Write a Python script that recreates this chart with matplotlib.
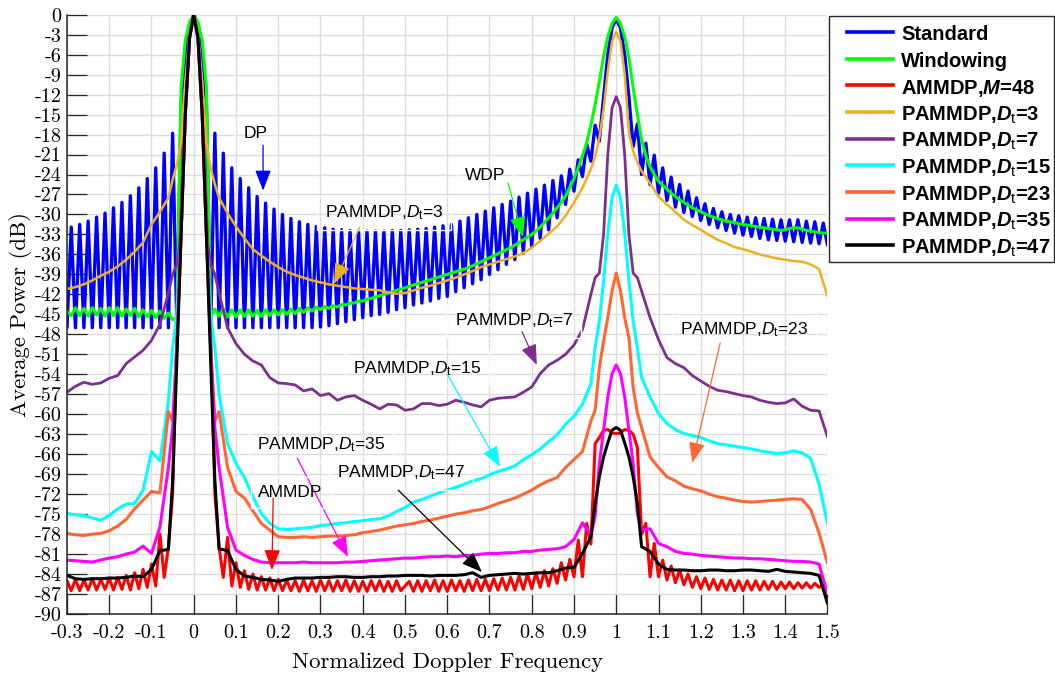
import numpy as np
import matplotlib
matplotlib.use("Agg")
import matplotlib.pyplot as plt
from matplotlib.lines import Line2D
from matplotlib.patches import Rectangle

plt.rcParams.update({
    'mathtext.fontset': 'custom',
    'mathtext.rm': 'Liberation Sans',
    'mathtext.it': 'Liberation Sans:italic',
    'mathtext.bf': 'Liberation Sans:bold',
    'mathtext.sf': 'Liberation Sans:bold:italic',
    'axes.unicode_minus': False,
})

# ---------------- data ----------------
# fine grid (0.01 step) for the strongly oscillating curves
x_fine = np.round(np.arange(-0.30, 1.5001, 0.01), 2)
# coarse grid for the smoother curves (finer around the two targets)
x_coarse = np.round(np.concatenate([
    np.arange(-0.30, -0.059, 0.02), np.arange(-0.05, 0.0501, 0.01),
    np.arange(0.06, 0.9401, 0.02), np.arange(0.95, 1.0501, 0.01),
    np.arange(1.06, 1.5001, 0.02)]), 2)

standard_db = [
    -47.0, -31.9, -47.0, -31.5, -47.0, -31.0, -47.0, -30.4, -47.0, -29.8,
    -47.0, -29.0, -47.0, -28.2, -47.0, -27.2, -47.0, -26.0, -47.0, -24.6,
    -47.0, -23.0, -47.0, -20.8, -47.0, -17.8, -47.0, -13.3, -6.0, -1.5,
    0.0, -1.5, -6.0, -13.3, -47.0, -17.8, -47.0, -20.8, -47.0, -23.0,
    -47.0, -24.6, -47.0, -26.0, -47.0, -27.3, -47.0, -28.3, -47.0, -29.2,
    -47.0, -30.0, -47.0, -30.6, -47.0, -31.1, -47.0, -31.5, -47.0, -31.8,
    -46.9, -32.0, -46.7, -32.2, -46.4, -32.3, -46.1, -32.4, -45.8, -32.5,
    -45.5, -32.5, -45.2, -32.5, -45.0, -32.5, -44.7, -32.4, -44.3, -32.4,
    -44.0, -32.3, -43.6, -32.2, -43.3, -32.1, -43.0, -31.9, -42.6, -31.7,
    -42.3, -31.5, -41.6, -31.0, -41.0, -30.5, -40.4, -30.0, -39.8, -29.5,
    -39.0, -29.0, -38.3, -28.5, -37.5, -28.0, -36.8, -27.4, -35.8, -26.8,
    -34.8, -26.2, -33.6, -25.6, -32.3, -24.9, -30.5, -24.2, -28.5, -23.2,
    -26.5, -21.8, -24.3, -19.4, -22.0, -16.6, -19.0, -12.4, -6.0, -2.0,
    -0.6, -2.0, -6.0, -12.4, -19.8, -16.4, -24.0, -19.3, -25.5, -21.1,
    -26.8, -23.0, -27.9, -24.4, -28.9, -25.5, -29.7, -26.5, -30.3, -27.5,
    -30.9, -28.4, -31.5, -29.1, -32.0, -29.6, -32.4, -30.0, -32.8, -30.2,
    -33.1, -30.4, -33.3, -30.5, -33.6, -30.6, -33.8, -30.7, -33.9, -30.8,
    -34.0, -30.8, -34.1, -30.8, -34.2, -31.0, -34.3, -31.1, -34.4, -31.3,
    -34.6]

windowing_db = [
    -44.6, -45.2, -44.0, -45.2, -44.1, -45.3, -44.0, -45.1, -44.1, -45.3,
    -44.0, -45.2, -44.0, -45.3, -44.2, -45.2, -44.1, -45.4, -44.3, -45.4,
    -44.4, -45.5, -44.5, -45.6, -44.8, -45.8, -45.5, -11.0, -3.8, -1.1,
    0.0, -1.1, -3.8, -11.0, -45.5, -44.2, -45.3, -44.2, -45.4, -44.3,
    -45.4, -44.3, -45.3, -44.3, -45.3, -44.4, -45.3, -44.3, -45.2, -44.3,
    -45.1, -44.3, -45.0, -44.2, -44.9, -44.1, -44.7, -44.0, -44.5, -43.9,
    -44.3, -43.8, -44.1, -43.7, -43.9, -43.5, -43.6, -43.3, -43.3, -43.0,
    -43.0, -42.7, -42.6, -42.4, -42.2, -42.0, -41.8, -41.6, -41.4, -41.2,
    -41.0, -40.8, -40.6, -40.4, -40.2, -40.0, -39.8, -39.6, -39.4, -39.2,
    -39.0, -38.8, -38.6, -38.4, -38.2, -38.0, -37.7, -37.4, -37.1, -36.8,
    -36.5, -36.2, -35.9, -35.6, -35.3, -35.0, -34.6, -34.2, -33.8, -33.4,
    -33.0, -32.5, -31.9, -31.2, -30.5, -29.8, -29.0, -28.2, -27.2, -26.0,
    -24.6, -23.0, -21.2, -19.2, -16.6, -13.5, -10.0, -6.3, -3.3, -1.3,
    -0.4, -1.3, -3.3, -6.5, -11.0, -15.0, -18.8, -21.2, -22.8, -24.0,
    -25.0, -25.6, -26.2, -26.8, -27.3, -27.8, -28.2, -28.6, -29.0, -29.3,
    -29.6, -29.9, -30.2, -30.4, -30.6, -30.8, -31.0, -31.1, -31.2, -31.4,
    -31.5, -31.6, -31.7, -31.8, -31.9, -32.0, -32.1, -32.2, -32.3, -32.4,
    -32.3, -32.1, -32.0, -32.0, -32.2, -32.4, -32.5, -32.6, -32.7, -32.8,
    -32.8]

ammdp_db = [
    -85.0, -86.5, -84.8, -86.5, -84.9, -86.4, -84.7, -86.4, -84.8, -86.3,
    -84.6, -86.4, -84.5, -86.3, -84.2, -86.4, -83.8, -86.2, -83.3, -86.0,
    -82.5, -85.8, -78.0, -84.5, -80.0, -72.0, -48.0, -30.0, -13.0, -3.5,
    0.0, -3.5, -13.0, -30.0, -48.0, -72.0, -80.0, -84.5, -78.5, -85.8,
    -82.3, -86.0, -83.5, -86.3, -84.0, -86.4, -84.4, -86.4, -84.6, -86.5,
    -84.8, -86.5, -84.9, -86.5, -85.0, -86.6, -84.9, -86.5, -85.0, -86.6,
    -84.9, -86.5, -85.0, -86.6, -85.0, -86.5, -84.9, -86.6, -85.0, -86.6,
    -85.1, -86.6, -85.0, -86.5, -85.0, -86.6, -85.1, -86.6, -85.0, -86.5,
    -85.8, -85.1, -86.6, -85.0, -86.6, -85.0, -86.5, -84.9, -86.6, -85.0,
    -86.6, -84.9, -86.5, -85.0, -86.6, -84.9, -86.5, -84.8, -86.5, -84.8,
    -86.5, -84.7, -86.4, -84.6, -86.4, -84.5, -86.4, -84.3, -86.3, -84.0,
    -86.2, -83.8, -86.0, -83.5, -85.8, -83.2, -85.4, -82.3, -84.9, -81.8,
    -84.4, -78.9, -84.4, -76.4, -79.5, -64.4, -63.5, -62.4, -62.3, -62.8,
    -62.9, -62.8, -62.3, -62.4, -63.0, -65.0, -78.0, -76.4, -84.4, -79.4,
    -84.4, -81.9, -84.9, -82.8, -85.3, -83.4, -85.6, -84.0, -86.0, -84.4,
    -86.2, -84.6, -86.3, -84.8, -86.4, -84.9, -86.4, -84.9, -86.5, -85.0,
    -86.5, -85.0, -86.4, -85.0, -86.4, -85.1, -86.3, -85.1, -86.3, -85.2,
    -86.2, -85.2, -86.2, -85.3, -86.1, -85.3, -86.1, -85.4, -86.0, -85.6,
    -88.4]

pammdp3_db = [
    -41.2, -40.9, -40.5, -39.9, -39.2, -38.6, -37.8, -36.8, -35.6, -34.2, -31.5, -29.6, -27.5,
    -24.8, -22.5, -19.3, -10.0, -3.0, 0.0, -3.0, -10.0, -19.3, -23.0, -25.5,
    -27.5, -29.8, -31.8, -33.6, -35.2, -36.2, -37.1, -37.9, -38.6, -39.1, -39.5, -39.9,
    -40.2, -40.5, -40.7, -40.9, -41.1, -41.2, -41.3, -41.4, -41.7, -41.9, -41.8, -41.4,
    -41.0, -40.7, -40.3, -39.9, -39.5, -39.0, -38.5, -37.9, -37.5, -37.1, -36.7, -36.3,
    -35.8, -35.0, -34.0, -32.9, -31.8, -30.2, -28.2, -26.0, -23.2,
    -21.3, -18.5, -14.3, -8.5, -4.0, -2.6, -4.0, -9.0, -17.8, -20.5, -22.2,
    -23.5, -25.3, -27.3, -28.5, -29.6, -30.8, -31.6, -32.3, -33.1, -33.8, -34.3, -34.9,
    -35.2, -35.6, -36.0, -36.3, -36.6, -36.8, -37.0, -37.1, -37.5, -38.2, -42.3]

pammdp7_db = [
    -56.7, -55.8, -55.2, -55.5, -55.3, -54.6, -54.2, -52.4, -51.4, -50.4, -48.9, -46.5, -41.8,
    -39.0, -37.5, -33.0, -15.0, -3.5, 0.0, -3.5, -15.0, -33.0, -37.5, -39.0,
    -41.8, -47.0, -49.4, -51.0, -52.0, -52.6, -54.5, -55.3, -55.4, -55.6, -56.5, -56.2,
    -57.2, -56.9, -57.9, -57.4, -57.2, -57.9, -58.5, -59.2, -58.5, -58.6, -59.4, -59.2,
    -58.4, -58.4, -58.7, -58.5, -57.9, -58.2, -58.6, -58.9, -57.9, -57.6, -57.5, -57.4,
    -56.7, -55.9, -53.9, -52.6, -51.9, -51.0, -49.6, -47.3, -42.0,
    -39.5, -38.8, -33.0, -21.0, -14.0, -12.3, -14.0, -21.0, -33.0, -38.8, -39.5,
    -41.5, -45.5, -48.8, -51.5, -52.4, -53.0, -54.2, -55.0, -55.8, -56.4, -56.6, -56.9,
    -57.2, -57.4, -57.9, -58.2, -58.4, -58.3, -57.7, -58.8, -59.4, -59.5, -63.4]

pammdp15_db = [
    -74.9, -75.1, -75.2, -75.6, -75.9, -75.2, -74.2, -73.5, -73.4, -71.4, -65.6, -67.0, -58.0,
    -50.0, -45.0, -33.0, -15.0, -3.5, 0.0, -3.5, -15.0, -33.0, -45.0, -50.0,
    -57.0, -64.4, -67.4, -69.5, -72.4, -74.9, -76.4, -77.2, -77.3, -77.2, -77.1, -77.0,
    -76.7, -76.6, -76.4, -76.3, -76.1, -76.0, -75.8, -75.7, -75.3, -74.6, -74.0, -73.2,
    -72.8, -72.3, -71.8, -71.4, -71.0, -70.5, -70.0, -69.7, -69.1, -68.6, -68.2, -67.8,
    -66.8, -66.1, -65.2, -64.1, -63.1, -61.5, -60.3, -58.5, -55.4,
    -50.0, -46.0, -40.0, -32.8, -27.5, -25.6, -27.5, -32.8, -40.0, -46.0, -50.0,
    -54.5, -57.4, -59.9, -61.4, -62.3, -62.9, -63.2, -63.5, -64.0, -64.4, -64.6, -64.8,
    -65.0, -65.2, -65.5, -65.7, -65.9, -65.8, -65.5, -65.8, -66.6, -70.5, -76.4]

pammdp23_db = [
    -77.9, -78.1, -78.2, -78.0, -77.9, -77.5, -76.8, -75.8, -74.2, -72.9, -71.6, -71.8, -59.6,
    -61.0, -50.0, -33.0, -15.0, -3.5, 0.0, -3.5, -15.0, -33.0, -50.0, -61.0,
    -59.6, -68.0, -71.6, -72.6, -74.5, -76.4, -77.4, -78.4, -78.5, -78.5, -78.4, -78.5,
    -78.4, -78.3, -78.3, -78.2, -78.1, -77.8, -77.6, -77.4, -77.1, -76.8, -76.6, -76.4,
    -76.1, -75.9, -75.6, -75.3, -75.0, -74.8, -74.5, -74.3, -73.9, -73.4, -73.0, -72.6,
    -72.0, -71.4, -70.6, -70.0, -69.5, -68.0, -66.8, -65.6, -61.0,
    -59.4, -53.0, -49.0, -45.5, -41.5, -38.8, -41.5, -45.5, -48.5, -56.0, -59.8,
    -62.0, -66.4, -68.0, -69.4, -70.0, -70.8, -71.2, -71.5, -72.0, -72.4, -72.6, -72.9,
    -73.1, -73.2, -73.1, -73.0, -72.9, -72.8, -72.7, -72.8, -74.3, -77.8, -82.4]

pammdp35_db = [
    -81.9, -82.0, -82.1, -82.2, -81.9, -81.6, -81.4, -81.0, -80.7, -79.8, -80.9, -76.9, -68.0,
    -62.0, -50.0, -33.0, -15.0, -3.5, 0.0, -3.5, -15.0, -33.0, -50.0, -62.0,
    -68.0, -77.0, -80.4, -81.2, -81.8, -82.2, -82.3, -82.3, -82.3, -82.3, -82.2, -82.3,
    -82.3, -82.3, -82.3, -82.2, -82.2, -82.1, -82.0, -81.9, -81.8, -81.7, -81.6, -81.6,
    -81.5, -81.4, -81.4, -81.3, -81.4, -81.2, -81.2, -81.0, -80.9, -80.9, -80.8, -80.8,
    -80.6, -80.6, -80.4, -80.3, -80.2, -79.9, -78.8, -76.3, -78.2,
    -75.4, -67.4, -62.4, -57.4, -53.9, -52.6, -53.9, -57.4, -62.4, -67.4, -75.0,
    -77.4, -77.2, -79.4, -79.9, -80.6, -80.9, -81.0, -81.2, -81.3, -81.4, -81.5, -81.6,
    -81.6, -81.7, -81.7, -81.8, -81.9, -82.0, -82.1, -82.1, -82.2, -82.5, -87.0]

pammdp47_db = [
    -84.2, -84.7, -84.8, -84.7, -84.7, -84.6, -84.6, -84.5, -84.3, -84.4, -83.3, -80.5, -80.3,
    -70.0, -52.0, -33.0, -15.0, -3.5, 0.0, -3.5, -15.0, -33.0, -52.0, -70.0,
    -80.2, -80.5, -83.3, -84.3, -84.5, -84.8, -84.9, -85.1, -84.8, -84.6, -84.6, -84.6,
    -84.5, -84.5, -84.4, -84.4, -84.5, -84.5, -84.4, -84.4, -84.3, -84.3, -84.2, -84.2,
    -84.2, -84.3, -84.2, -84.2, -84.2, -84.1, -83.8, -84.5, -84.2, -84.1, -84.0, -83.9,
    -84.0, -83.9, -83.8, -83.8, -83.5, -83.1, -83.0, -80.9, -78.4,
    -73.4, -69.4, -66.4, -64.3, -62.4, -62.0, -62.4, -64.3, -66.4, -69.4, -73.4,
    -79.9, -80.6, -82.5, -83.3, -83.4, -83.4, -83.5, -83.5, -83.4, -83.4, -83.5, -83.5,
    -83.4, -83.4, -83.5, -83.6, -83.3, -83.6, -83.7, -83.8, -83.9, -84.2, -88.4]

legend_labels = ['Standard', 'Windowing', r'AMMDP,$\mathsf{M}$=48',
                 r'PAMMDP,$\mathsf{D}_{\mathrm{t}}$=3', r'PAMMDP,$\mathsf{D}_{\mathrm{t}}$=7',
                 r'PAMMDP,$\mathsf{D}_{\mathrm{t}}$=15', r'PAMMDP,$\mathsf{D}_{\mathrm{t}}$=23',
                 r'PAMMDP,$\mathsf{D}_{\mathrm{t}}$=35', r'PAMMDP,$\mathsf{D}_{\mathrm{t}}$=47']
colors = ['#0000FF', '#00FF00', '#FF0000', '#EDB120', '#7E2F8E',
          '#00FFFF', '#FF6633', '#FF00FF', '#000000']
widths = [2.4, 2.2, 2.2, 1.8, 2.0, 2.2, 2.2, 2.2, 2.2]

x_ticks = [-0.3, -0.2, -0.1, 0, 0.1, 0.2, 0.3, 0.4, 0.5, 0.6, 0.7, 0.8, 0.9,
           1.0, 1.1, 1.2, 1.3, 1.4, 1.5]
x_tick_labels = ['-0.3', '-0.2', '-0.1', '0', '0.1', '0.2', '0.3', '0.4', '0.5',
                 '0.6', '0.7', '0.8', '0.9', '1', '1.1', '1.2', '1.3', '1.4', '1.5']
y_ticks = list(range(0, -91, -3))
y_tick_labels = [str(v) for v in y_ticks]

# annotations: (text, text_xy, arrow_start, arrow_tip, color)
annotations = [
    ('DP', (0.117, -17.9), (0.164, -19.6), (0.164, -26.4), '#0000FF'),
    (r'PAMMDP,$D_{\mathrm{t}}$=3', (0.311, -29.8), (0.393, -31.9), (0.332, -40.4), '#EDB120'),
    ('WDP', (0.642, -24.1), (0.744, -25.3), (0.779, -33.4), '#00FF00'),
    (r'PAMMDP,$D_{\mathrm{t}}$=7', (0.618, -46.0), (0.777, -47.6), (0.812, -52.6), '#7E2F8E'),
    (r'PAMMDP,$D_{\mathrm{t}}$=23', (1.151, -47.3), (1.246, -49.3), (1.180, -67.3), '#FF6633'),
    (r'PAMMDP,$D_{\mathrm{t}}$=15', (0.377, -53.1), (0.600, -54.0), (0.725, -67.9), '#00FFFF'),
    (r'PAMMDP,$D_{\mathrm{t}}$=35', (0.150, -64.6), (0.245, -66.6), (0.365, -81.4), '#FF00FF'),
    ('AMMDP', (0.153, -71.8), (0.188, -72.6), (0.185, -83.4), '#FF0000'),
    (r'PAMMDP,$D_{\mathrm{t}}$=47', (0.339, -68.8), (0.484, -71.4), (0.682, -83.7), '#000000'),
]

# ---------------- figure ----------------
W, H = 1055, 679
fig = plt.figure(figsize=(W / 100, H / 100), dpi=100)
AX_L, AX_R, AX_T, AX_B = 67, 827.5, 14.7, 614
ax = fig.add_axes([AX_L / W, 1 - AX_B / H, (AX_R - AX_L) / W, (AX_B - AX_T) / H])

series = [
    (x_fine, standard_db), (x_fine, windowing_db), (x_fine, ammdp_db),
    (x_coarse, pammdp3_db), (x_coarse, pammdp7_db), (x_coarse, pammdp15_db),
    (x_coarse, pammdp23_db), (x_coarse, pammdp35_db), (x_coarse, pammdp47_db),
]
for (xs, ys), c, lw in zip(series, colors, widths):
    ax.plot(xs, ys, color=c, lw=lw, solid_joinstyle='round', solid_capstyle='round')

ax.set_xlim(-0.3, 1.5)
ax.set_ylim(-90, 0)
ax.set_xticks(x_ticks)
ax.set_xticklabels(x_tick_labels, fontfamily='cmr10', fontsize=14.5)
ax.set_yticks(y_ticks)
ax.set_yticklabels(y_tick_labels, fontfamily='cmr10', fontsize=14.5)
ax.tick_params(axis='both', direction='in', length=14.5, width=0.9, color='#262626')
ax.tick_params(axis='y', pad=3.8)
ax.tick_params(axis='x', pad=7)
ax.set_axisbelow(True)
ax.grid(True, color='#dcdcdc', lw=1.0)
for s in ('top', 'right'):
    ax.spines[s].set_visible(False)
for s in ('left', 'bottom'):
    ax.spines[s].set_color('#262626')
    ax.spines[s].set_linewidth(1.1)

ax.set_xlabel('Normalized Doppler Frequency', fontfamily='cmr10', fontsize=16.4)
ax.set_ylabel('Average Power (dB)', fontfamily='cmr10', fontsize=16.4)
ax.xaxis.set_label_coords(0.5, (AX_B - 662) / (AX_B - AX_T))
ax.xaxis.label.set_va('center')
ax.yaxis.set_label_coords((20 - AX_L) / (AX_R - AX_L), 0.5)
ax.yaxis.label.set_va('center')
ax.yaxis.label.set_ha('center')

for txt, txy, a0, a1, c in annotations:
    ax.text(txy[0], txy[1], txt, fontsize=12.5, family='Liberation Sans',
            ha='left', va='center',
            bbox=dict(boxstyle='square,pad=0.45', fc='none', ec='white', lw=1.0))
    ax.annotate('', xy=a1, xytext=a0,
                arrowprops=dict(arrowstyle='-|>,head_length=0.9,head_width=0.35',
                                color=c, lw=0.9, mutation_scale=14,
                                shrinkA=0, shrinkB=0))

# legend box (placed just right of the axes)
LX0, LY0, LX1, LY1 = 829, 16, 1054, 262
fig.add_artist(Rectangle((LX0 / W, 1 - LY1 / H), (LX1 - LX0) / W, (LY1 - LY0) / H,
                         transform=fig.transFigure, facecolor='white',
                         edgecolor='#262626', lw=1.0, zorder=5))
for k, (lab, c) in enumerate(zip(legend_labels, colors)):
    yc = 32 + 26.67 * k
    fig.add_artist(Line2D([847 / W, 893 / W], [1 - yc / H, 1 - yc / H],
                          transform=fig.transFigure, color=c, lw=2.6, zorder=6))
    fig.text(901 / W, 1 - (yc + 8.5) / H, lab, fontsize=14.5, fontweight='bold',
             family='Liberation Sans', ha='left', va='baseline', zorder=6)

fig.savefig('out.png', dpi=100)
